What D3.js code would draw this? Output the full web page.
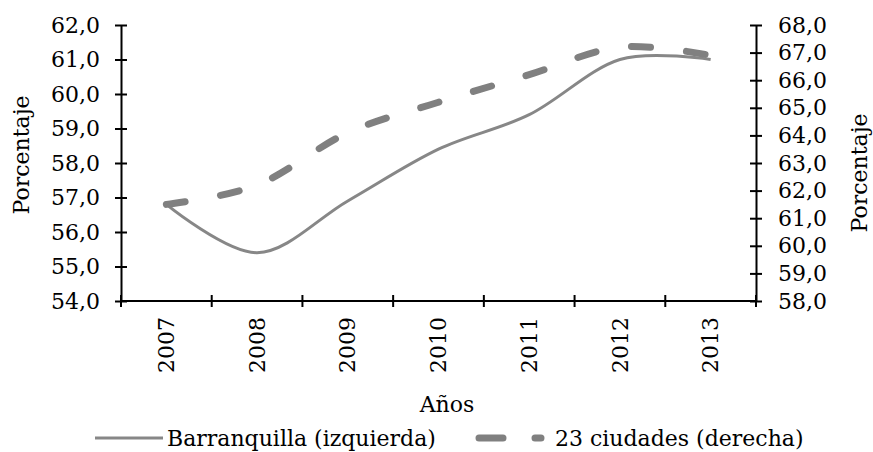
<!DOCTYPE html>
<html><head><meta charset="utf-8">
<script src="https://cdn.jsdelivr.net/npm/d3@7"></script>
<style>
body{margin:0;background:#fff;}
text{font-family:"DejaVu Serif",serif;fill:#000;}
</style></head>
<body><svg id="c" width="873" height="452"></svg>
<script>
const years = ["2007","2008","2009","2010","2011","2012","2013"];
const barranquilla = [56.8, 55.4, 56.9, 58.4, 59.4, 61.0, 61.0];
const ciudades23 = [61.5, 62.2, 64.1, 65.2, 66.2, 67.2, 66.9];
const leftTicks = [54,55,56,57,58,59,60,61,62];
const rightTicks = [58,59,60,61,62,63,64,65,66,67,68];
const seriesNames = ["Barranquilla (izquierda)", "23 ciudades (derecha)"];

const svg = d3.select("#c");
const L = 121, R = 756, T = 25, B = 301;
const FS = 22;
const fmt = v => d3.format(".1f")(v).replace(".", ",");

const x = d3.scaleBand().domain(years).range([L, R]);
const yL = d3.scaleLinear().domain([54, 62]).range([B, T]);
const yR = d3.scaleLinear().domain([58, 68]).range([B, T]);

// left axis
const gL = svg.append("g").attr("transform", `translate(${L},0)`)
  .call(d3.axisLeft(yL).tickValues(leftTicks).tickFormat(fmt).tickSizeInner(6).tickSizeOuter(0).tickPadding(15));
gL.selectAll(".tick line").attr("x1", 6).attr("x2", -6);
// right axis
const gR = svg.append("g").attr("transform", `translate(${R},0)`)
  .call(d3.axisRight(yR).tickValues(rightTicks).tickFormat(fmt).tickSizeInner(6).tickSizeOuter(0).tickPadding(16));
gR.selectAll(".tick line").attr("x1", -6).attr("x2", 6);
// bottom axis
const gB = svg.append("g").attr("transform", `translate(0,${B})`)
  .call(d3.axisBottom(x).tickSize(0).tickSizeOuter(0).tickPadding(0));
gB.selectAll(".tick text").remove();
gB.selectAll(".domain").attr("d", `M${L},0H${R}`);
const bounds = years.map(y => x(y)).concat([R]);
gB.selectAll(".bnd").data(bounds).enter().append("line")
  .attr("x1", d => d).attr("x2", d => d).attr("y1", -6).attr("y2", 6);
gB.selectAll(".ylab").data(years).enter().append("text")
  .attr("transform", d => `translate(${x(d) + x.bandwidth()/2},16) rotate(-90)`)
  .attr("text-anchor", "end").attr("dy", "0.35em").text(d => d);

svg.selectAll(".domain, .tick line, g line").attr("stroke", "#000").attr("stroke-width", 2);
svg.selectAll("g text").style("font-size", FS + "px").style("font-family", '"DejaVu Serif",serif').attr("fill", "#000");

const cx = d => x(d) + x.bandwidth()/2;
const curve = d3.curveCardinal.tension(0);
svg.append("path")
  .attr("d", d3.line().x((d,i) => cx(years[i])).y(d => yL(d)).curve(curve)(barranquilla))
  .attr("fill", "none").attr("stroke", "#878787").attr("stroke-width", 3);
svg.append("path")
  .attr("d", d3.line().x((d,i) => cx(years[i])).y(d => yR(d)).curve(curve)(ciudades23))
  .attr("fill", "none").attr("stroke", "#808080").attr("stroke-width", 7)
  .attr("stroke-linecap", "round").attr("stroke-dasharray", "19,36");

// axis titles
svg.append("text").attr("transform", "translate(21,155) rotate(-90)")
  .attr("text-anchor", "middle").attr("dy", "0.35em").style("font-size", FS+"px").text("Porcentaje");
svg.append("text").attr("transform", "translate(859,173) rotate(-90)")
  .attr("text-anchor", "middle").attr("dy", "0.35em").style("font-size", FS+"px").text("Porcentaje");
svg.append("text").attr("x", 447).attr("y", 404).attr("text-anchor", "middle").attr("dy", "0.35em")
  .style("font-size", FS+"px").text("Años");

// legend
const ly = 438;
svg.append("line").attr("x1", 95).attr("x2", 163).attr("y1", ly).attr("y2", ly)
  .attr("stroke", "#878787").attr("stroke-width", 3);
svg.append("text").attr("x", 167).attr("y", ly).attr("dy", "0.35em").style("font-size", FS+"px").text(seriesNames[0]);
svg.append("path").attr("d", `M479,${ly}H541`).attr("stroke", "#808080").attr("stroke-width", 7)
  .attr("stroke-linecap", "round").attr("stroke-dasharray", "24,32").attr("fill", "none");
svg.append("text").attr("x", 555).attr("y", ly).attr("dy", "0.35em").style("font-size", FS+"px").text(seriesNames[1]);
</script></body></html>
